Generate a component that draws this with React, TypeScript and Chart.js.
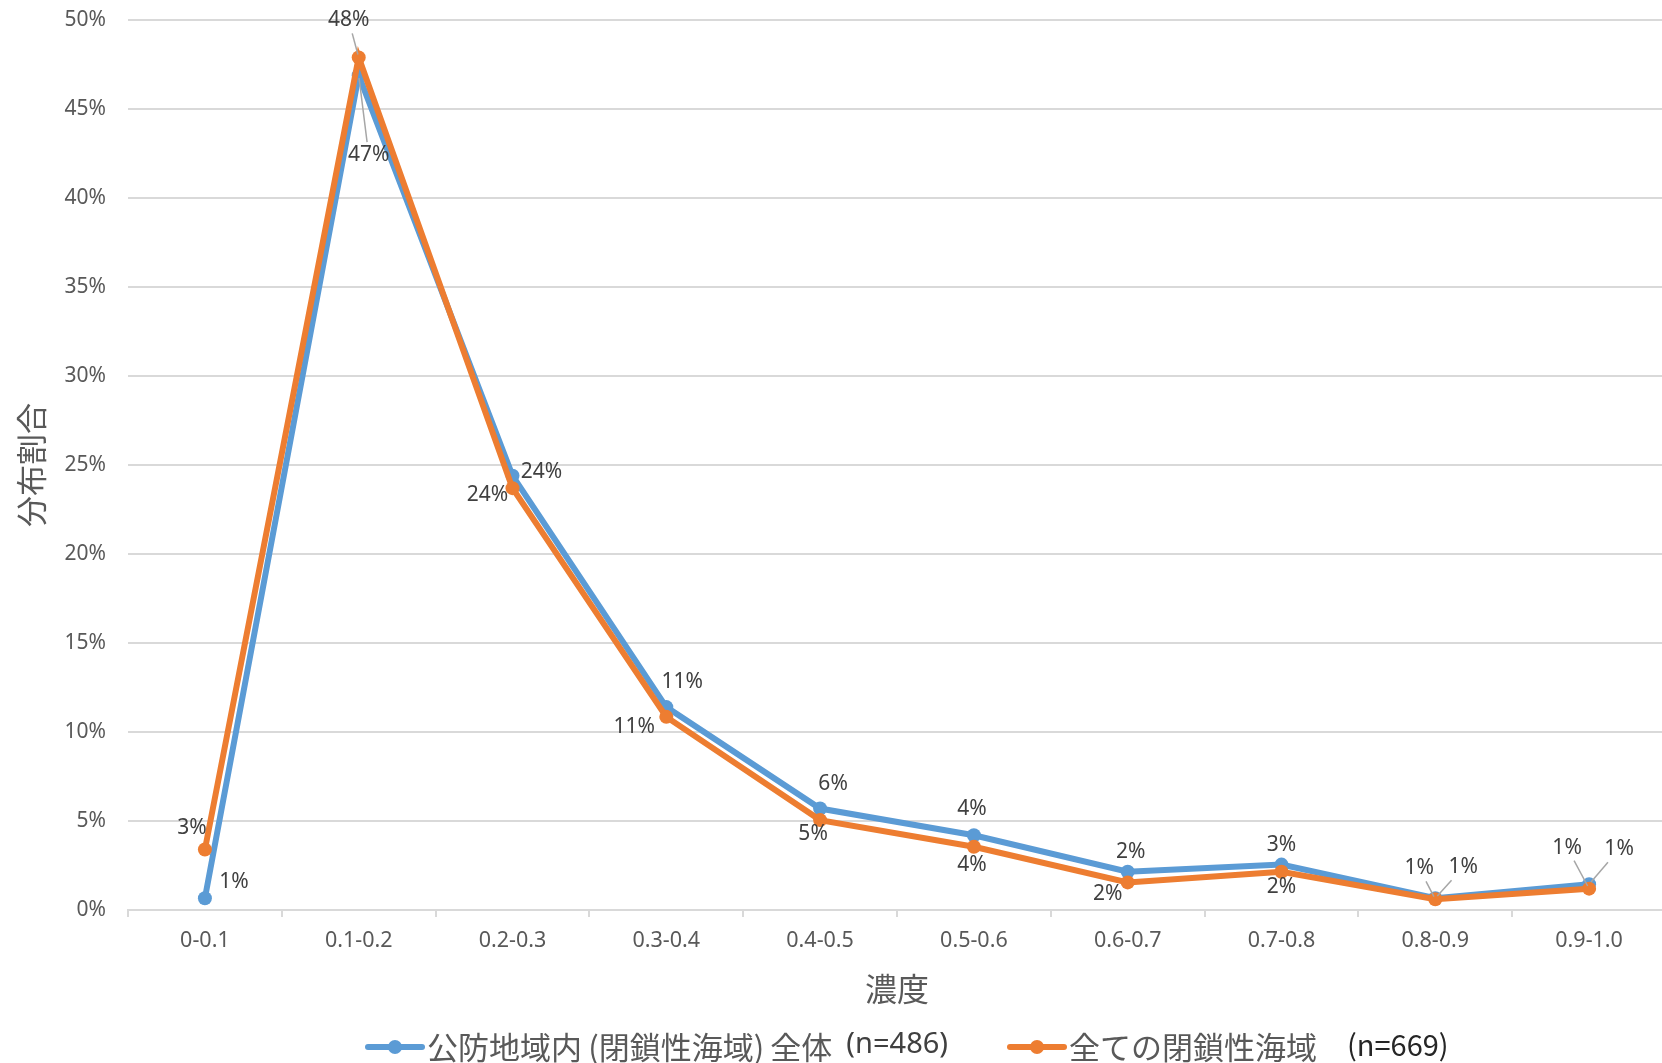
import { useEffect, useRef } from "react";
import { Chart, registerables } from "chart.js";

Chart.register(...registerables);

// ---- data ----
const categories = ["0-0.1", "0.1-0.2", "0.2-0.3", "0.3-0.4", "0.4-0.5", "0.5-0.6", "0.6-0.7", "0.7-0.8", "0.8-0.9", "0.9-1.0"];
const seriesAName = "公防地域内\u2009(閉鎖性海域)\u2009全体";
const seriesANote = "(n=486)";
const seriesBName = "全ての閉鎖性海域";
const seriesBNote = "(n=669)";
const seriesA = [0.66, 46.9, 24.4, 11.4, 5.7, 4.2, 2.15, 2.55, 0.66, 1.45];
const seriesB = [3.4, 47.9, 23.7, 10.85, 5.05, 3.55, 1.55, 2.15, 0.6, 1.2];
const yMin = 0;
const yMax = 50;
const yStep = 5;
const xTitle = "濃度";
const yTitle = "分布割合";

// label placement relative to each point (dx, dy) and leader-line flags
const labelOffsetsA = [[29, -16], [10, 80], [29, -4], [16, -25], [13, -25], [-2, -26], [3, -20], [0, -20], [28, -31], [30, -35]];
const labelOffsetsB = [[-13, -21], [-10, -37], [-25, 7], [-32, 10], [-7, 14], [-2, 18], [-20, 12], [0, 15], [-16, -31], [-22, -41]];
const leadersA = [false, true, false, false, false, false, false, false, true, true];
const leadersB = [false, true, false, false, false, false, false, false, true, true];

const BLUE = "#5B9BD5";
const ORANGE = "#ED7D31";
const LATIN = "'Noto Sans', 'Noto Sans CJK JP', sans-serif";
const CJK = "'Noto Sans CJK JP', 'Noto Sans', sans-serif";

const labelPlugin = {
  id: "pointLabels",
  afterDatasetsDraw(chart: any) {
    const ctx = chart.ctx as CanvasRenderingContext2D;
    const cfg = [
      { offs: labelOffsetsA, leaders: leadersA },
      { offs: labelOffsetsB, leaders: leadersB },
    ];
    chart.data.datasets.forEach((ds: any, di: number) => {
      const meta = chart.getDatasetMeta(di);
      const { offs, leaders } = cfg[di];
      meta.data.forEach((pt: any, i: number) => {
        const px = pt.x, py = pt.y;
        const lx = px + offs[i][0], ly = py + offs[i][1];
        const text = Math.round(ds.data[i]) + "%";
        ctx.save();
        ctx.font = `21px ${LATIN}`;
        if (leaders[i]) {
          const w = ctx.measureText(text).width / 2 + 2;
          const h = 13;
          const dx = px - lx, dy = py - ly;
          const t1 = Math.min(dx ? w / Math.abs(dx) : Infinity, dy ? h / Math.abs(dy) : Infinity);
          const len = Math.hypot(dx, dy);
          const t2 = 1 - 3 / len;
          ctx.strokeStyle = "#A6A6A6";
          ctx.lineWidth = 1.5;
          ctx.beginPath();
          ctx.moveTo(lx + dx * t1, ly + dy * t1);
          ctx.lineTo(lx + dx * t2, ly + dy * t2);
          ctx.stroke();
        }
        ctx.fillStyle = "#404040";
        ctx.textAlign = "center";
        ctx.textBaseline = "middle";
        ctx.fillText(text, lx, ly);
        ctx.restore();
      });
    });
  },
};

const decorPlugin = {
  id: "decor",
  afterDraw(chart: any) {
    const ctx = chart.ctx as CanvasRenderingContext2D;
    const area = chart.chartArea;
    ctx.save();
    // x title
    ctx.fillStyle = "#595959";
    ctx.font = `32px ${CJK}`;
    ctx.textAlign = "center";
    ctx.textBaseline = "middle";
    ctx.fillText(xTitle, 897, 989);
    // y title
    ctx.save();
    ctx.font = `31px ${CJK}`;
    ctx.translate(31, (area.top + area.bottom) / 2);
    ctx.rotate(-Math.PI / 2);
    ctx.fillText(yTitle, 0, 0);
    ctx.restore();

    // legend
    const legendY = 1047;
    const items = [
      { color: BLUE, name: seriesAName, note: seriesANote, x: 368, noteFont: `29px 'Liberation Sans Narrow', 'Noto Sans', sans-serif`, noteColor: "#404040", gap: 14 },
      { color: ORANGE, name: seriesBName, note: seriesBNote, x: 1010, noteFont: `29px ${CJK}`, noteColor: "#262626", gap: 30 },
    ];
    items.forEach((it) => {
      ctx.strokeStyle = it.color;
      ctx.lineWidth = 6;
      ctx.lineCap = "round";
      ctx.beginPath();
      ctx.moveTo(it.x, legendY);
      ctx.lineTo(it.x + 54, legendY);
      ctx.stroke();
      ctx.fillStyle = it.color;
      ctx.beginPath();
      ctx.arc(it.x + 27, legendY, 7, 0, Math.PI * 2);
      ctx.fill();
      let tx = it.x + 59;
      ctx.textAlign = "left";
      ctx.textBaseline = "middle";
      ctx.font = `31px ${CJK}`;
      ctx.fillStyle = "#595959";
      ctx.fillText(it.name, tx, legendY);
      tx += ctx.measureText(it.name).width + it.gap;
      ctx.font = it.noteFont;
      ctx.fillStyle = it.noteColor;
      ctx.fillText(it.note, tx, legendY - 2);
    });
    ctx.restore();
  },
};

export default function App() {
  const ref = useRef<HTMLCanvasElement>(null);
  useEffect(() => {
    document.body.style.margin = "0";
    const chart = new Chart(ref.current as HTMLCanvasElement, {
      type: "line",
      data: {
        labels: categories,
        datasets: [
          {
            label: seriesAName + " " + seriesANote,
            data: seriesA,
            borderColor: BLUE,
            backgroundColor: BLUE,
            borderWidth: 6,
            pointRadius: 7,
            pointBorderWidth: 0,
            pointBackgroundColor: BLUE,
            tension: 0,
            order: 2,
          },
          {
            label: seriesBName + " " + seriesBNote,
            data: seriesB,
            borderColor: ORANGE,
            backgroundColor: ORANGE,
            borderWidth: 6,
            pointRadius: 7,
            pointBorderWidth: 0,
            pointBackgroundColor: ORANGE,
            tension: 0,
            order: 1,
          },
        ],
      },
      options: {
        responsive: false,
        devicePixelRatio: 1,
        animation: false,
        clip: false,
        layout: { padding: { top: 20, left: 0, right: 0, bottom: 0 } },
        plugins: { legend: { display: false }, tooltip: { enabled: false }, title: { display: false } },
        scales: {
          x: {
            type: "category",
            offset: true,
            grid: { offset: true, drawOnChartArea: false, drawTicks: true, tickLength: 7, color: "#D9D9D9", lineWidth: 2 },
            border: { display: true, color: "#D9D9D9", width: 2 },
            ticks: { color: "#595959", font: { size: 21.5, family: LATIN }, padding: 11, maxRotation: 0, autoSkip: false },
            afterFit: (s: any) => {
              s.height = 1063 - 910;
              s.paddingLeft = 0;
              s.paddingRight = 0;
            },
          },
          y: {
            min: yMin,
            max: yMax,
            grid: { drawTicks: false, color: "#D9D9D9", lineWidth: 2 },
            border: { display: false },
            ticks: { stepSize: yStep, color: "#595959", font: { size: 21, family: LATIN }, padding: 22, callback: (v: any) => v + "%" },
            afterFit: (s: any) => {
              s.width = 128;
              s.paddingTop = 0;
              s.paddingBottom = 0;
            },
          },
        },
      } as any,
      plugins: [labelPlugin, decorPlugin],
    });
    return () => chart.destroy();
  }, []);
  return (
    <div style={{ width: 1662, height: 1063, overflow: "hidden" }}>
      <canvas ref={ref} width={1673} height={1063} style={{ display: "block" }} />
    </div>
  );
}
